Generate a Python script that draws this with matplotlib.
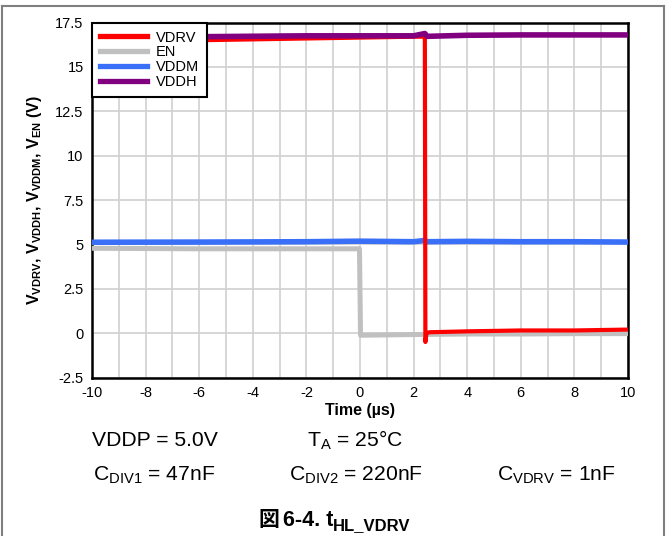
import matplotlib
matplotlib.use("Agg")
import matplotlib.pyplot as plt
from matplotlib.lines import Line2D

plt.rcParams['font.family'] = ['Liberation Sans', 'Noto Sans CJK JP', 'DejaVu Sans']
plt.rcParams['mathtext.fontset'] = 'custom'
plt.rcParams['mathtext.rm'] = 'Liberation Sans'
plt.rcParams['mathtext.it'] = 'Liberation Sans:italic'
plt.rcParams['mathtext.bf'] = 'Liberation Sans:bold'
plt.rcParams['axes.unicode_minus'] = False

# ---- data ----
vdrv_t = [-10, -8, -6, -4, -2, 0, 2.0, 2.42, 2.44, 2.48, 2.6, 4, 6, 8, 10]
vdrv_v = [16.55, 16.55, 16.5, 16.55, 16.6, 16.65, 16.7, 16.7, -0.5, 0.0, 0.05, 0.1, 0.15, 0.15, 0.2]

en_t = [-10, -6, -2, -0.02, 0.02, 2, 4, 6, 8, 10]
en_v = [4.78, 4.75, 4.75, 4.75, -0.12, -0.08, -0.05, -0.05, -0.03, -0.03]

vddm_t = [-10, -6, -2, 0, 2, 2.42, 2.5, 4, 6, 8, 10]
vddm_v = [5.12, 5.13, 5.15, 5.18, 5.15, 5.22, 5.15, 5.17, 5.15, 5.15, 5.13]

vddh_t = [-10, -6, -2, 0, 2, 2.42, 2.5, 4, 6, 8, 10]
vddh_v = [16.68, 16.7, 16.75, 16.75, 16.75, 16.88, 16.72, 16.78, 16.8, 16.8, 16.8]

x_ticks = [-10, -8, -6, -4, -2, 0, 2, 4, 6, 8, 10]
y_ticks = [-2.5, 0, 2.5, 5, 7.5, 10, 12.5, 15, 17.5]
y_tick_labels = ['-2.5', '0', '2.5', '5', '7.5', '10', '12.5', '15', '17.5']

fig = plt.figure(figsize=(6.66, 5.36), dpi=100)
ax = fig.add_axes([92/666, 1-377.5/536, 536/666, 355/536])

c_red = '#ff0000'
c_grey = '#c0c0c0'
c_blue = '#3a6ff7'
c_purple = '#800080'

ax.plot(en_t, en_v, color=c_grey, lw=3.6, zorder=3)
ax.plot(vddm_t, vddm_v, color=c_blue, lw=4.0, zorder=4)
ax.plot(vdrv_t, vdrv_v, color=c_red, lw=3.0, zorder=5)
ax.plot(vddh_t, vddh_v, color=c_purple, lw=4.0, zorder=6)

ax.set_xlim(-10, 10)
ax.set_ylim(-2.5, 17.5)
ax.set_xticks(x_ticks)
ax.set_xticks(range(-10, 11), minor=True)
ax.set_yticks(y_ticks)
ax.set_yticklabels(y_tick_labels)
ax.tick_params(axis='both', which='both', length=0, labelsize=10.5, pad=6)
ax.grid(True, which='both', axis='x', color='#d0d0d0', lw=1.2)
ax.grid(True, which='major', axis='y', color='#d0d0d0', lw=1.2)
ax.set_axisbelow(True)
for s in ax.spines.values():
    s.set_linewidth(1.8)
    s.set_color('black')

ax.set_xlabel('Time (µs)', fontsize=11.5, fontweight='bold', labelpad=2)
ax.set_ylabel(r'$\mathbf{V_{VDRV}}$, $\mathbf{V_{VDDH}}$, $\mathbf{V_{VDDM}}$, $\mathbf{V_{EN}}$ (V)',
              fontsize=11.5, fontweight='bold', labelpad=8)

handles = [Line2D([], [], color=c_red, lw=3.8),
           Line2D([], [], color=c_grey, lw=3.8),
           Line2D([], [], color=c_blue, lw=3.8),
           Line2D([], [], color=c_purple, lw=3.8)]
leg = ax.legend(handles, ['VDRV', 'EN', 'VDDM', 'VDDH'], loc='upper left',
                fontsize=10.5, frameon=True, fancybox=False, framealpha=1,
                edgecolor='black', borderaxespad=0, handlelength=3.2,
                labelspacing=0.05, handletextpad=0.6, borderpad=0.55)
leg.get_frame().set_linewidth(1.5)
leg.set_zorder(10)

# conditions text
fs = 15.2
fig.text(92/666, 1-440/536, 'VDDP = 5.0V', fontsize=fs, va='center', ha='left')
fig.text(307/666, 1-440/536, r'T$_\mathrm{A}$ = 25°C', fontsize=fs, va='center', ha='left')
fig.text(93/666, 1-475/536, r'C$_\mathrm{DIV1}$ = 47nF', fontsize=fs, va='center', ha='left')
fig.text(289/666, 1-475/536, r'C$_\mathrm{DIV2}$ = 220nF', fontsize=fs, va='center', ha='left')
fig.text(497/666, 1-475/536, r'C$_\mathrm{VDRV}$ = 1nF', fontsize=fs, va='center', ha='left')

# caption: CJK glyph, then latin part, then subscript
W, H = fig.bbox.width, fig.bbox.height
base_y = 1 - 526/536
c1 = fig.text(258/666, base_y, '図', fontsize=15, fontweight='bold', va='baseline', ha='left',
              family=['Noto Sans CJK JP'])
fig.canvas.draw()
x = c1.get_window_extent().x1 + 4
c2 = fig.text(x / W, base_y, '6-4. t', fontsize=15.5, fontweight='bold', va='baseline', ha='left')
fig.canvas.draw()
x = c2.get_window_extent().x1
fig.text(x / W, base_y - 4/536, 'HL_VDRV', fontsize=12, fontweight='bold', va='baseline', ha='left')

# outer frame (left, top, right)
frame_c = '#7f7f7f'
fig.add_artist(Line2D([1.5/666, 1.5/666], [0, 1-5.5/536], color=frame_c, lw=1.5, transform=fig.transFigure))
fig.add_artist(Line2D([1.5/666, 663.5/666], [1-5.5/536, 1-5.5/536], color=frame_c, lw=1.5, transform=fig.transFigure))
fig.add_artist(Line2D([663.5/666, 663.5/666], [0, 1-5.5/536], color=frame_c, lw=1.5, transform=fig.transFigure))

fig.savefig('out.png', dpi=100)
